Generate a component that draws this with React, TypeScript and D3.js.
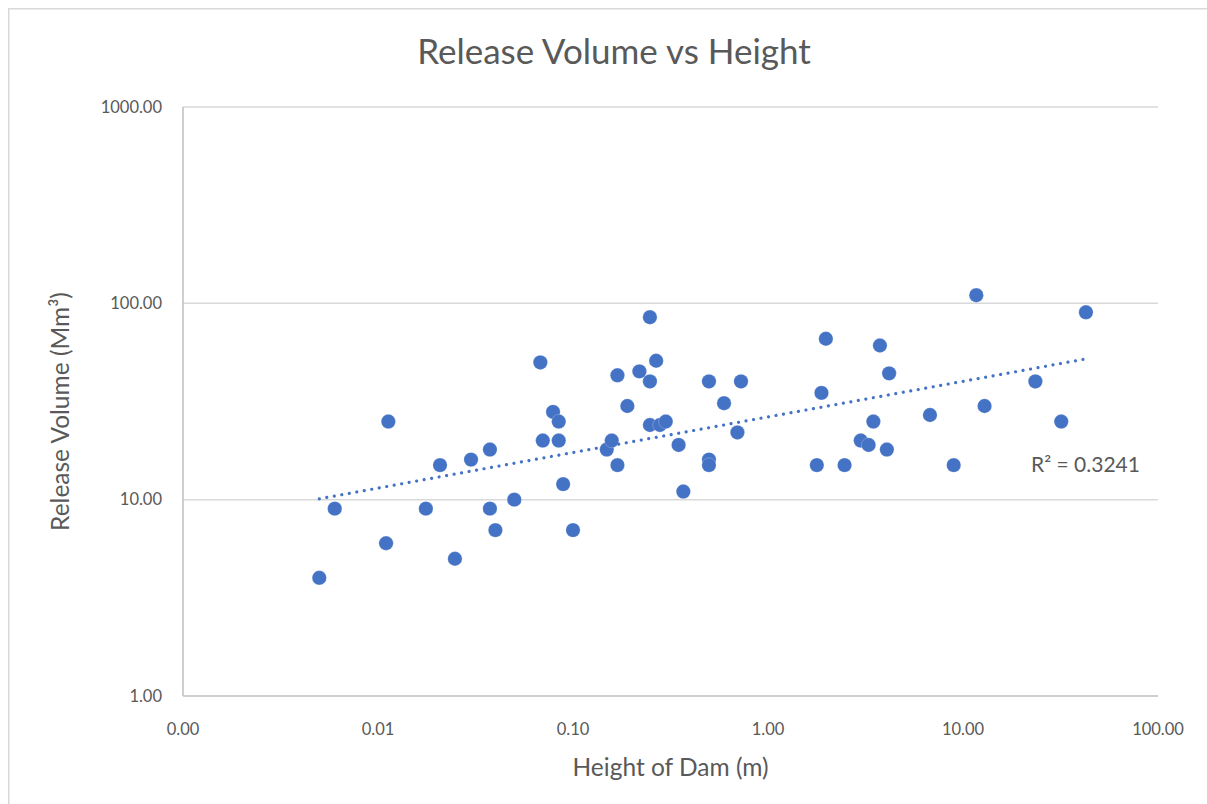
import React, { useLayoutEffect } from 'react';
import * as d3 from 'd3';

const heights = [
  0.005, 0.006, 0.011, 0.0113, 0.0176, 0.0208, 0.0248, 0.03, 0.0375, 0.0375,
  0.04, 0.05, 0.068, 0.07, 0.079, 0.0845, 0.0845, 0.089, 0.1, 0.149,
  0.158, 0.169, 0.169, 0.19, 0.219, 0.248, 0.248, 0.248, 0.267, 0.279,
  0.299, 0.348, 0.368, 0.498, 0.498, 0.498, 0.595, 0.697, 0.727, 1.78,
  1.88, 1.98, 2.47, 2.99, 3.28, 3.47, 3.75, 4.07, 4.18, 6.77,
  8.96, 11.7, 12.9, 23.5, 31.9, 42.7,
];
const volumes = [
  4, 9, 6, 25, 9, 15, 5, 16, 18, 9,
  7, 10, 50, 20, 28, 25, 20, 12, 7, 18,
  20, 15, 43, 30, 45, 85, 40, 24, 51, 24,
  25, 19, 11, 40, 16, 15, 31, 22, 40, 15,
  35, 66, 15, 20, 19, 25, 61, 18, 44, 27,
  15, 110, 30, 40, 25, 90,
];
const xTicks = [0.001, 0.01, 0.1, 1, 10, 100];
const yTicks = [1, 10, 100, 1000];
const titleText = 'Release Volume vs Height';
const xTitleText = 'Height of Dam (m)';
const yTitleText = 'Release Volume (Mm³)';
const r2Text = 'R² = 0.3241';

const FONT = 'Lato, "Open Sans", sans-serif';
const TEXT = '#595959';
const BLUE = '#4472C4';

export default function App() {
  useLayoutEffect(() => {
    document.body.style.margin = '0';
    document.body.style.overflow = 'hidden';
  }, []);

  const W = 1207;
  const H = 804;
  const left = 183, right = 1158, top = 107, bottom = 696;
  const x = d3.scaleLog().domain([0.001, 100]).range([left, right]);
  const y = d3.scaleLog().domain([1, 1000]).range([bottom, top]);

  const lx = heights.map((v) => Math.log10(v));
  const ly = volumes.map((v) => Math.log10(v));
  const mx = d3.mean(lx) as number;
  const my = d3.mean(ly) as number;
  let sxy = 0, sxx = 0;
  lx.forEach((v, i) => {
    sxy += (v - mx) * (ly[i] - my);
    sxx += (v - mx) * (v - mx);
  });
  const b = sxy / sxx;
  const a = my - b * mx;
  const x0 = d3.min(heights) as number;
  const x1 = d3.max(heights) as number;
  const trend = [x0, x1].map((v) => [x(v), y(Math.pow(10, a + b * Math.log10(v)))] as [number, number]);
  const lineGen = d3.line();

  return (
    <svg width={W} height={H} style={{ display: 'block' }} fontFamily={FONT}>
      <rect x={0} y={0} width={W} height={H} fill="#fff" />
      <rect x={8.75} y={8.75} width={W + 40} height={H + 40} fill="#fff" stroke="#D9D9D9" strokeWidth={1.5} />
      <text x={614} y={64} textAnchor="middle" fontSize={35} fill={TEXT}>{titleText}</text>
      {yTicks.slice(1).map((t) => (
        <line key={t} x1={left} x2={right} y1={y(t)} y2={y(t)} stroke="#D9D9D9" strokeWidth={1.5} />
      ))}
      <line x1={left} x2={right} y1={bottom} y2={bottom} stroke="#BFBFBF" strokeWidth={1.5} />
      <line x1={left} x2={left} y1={top} y2={bottom} stroke="#BFBFBF" strokeWidth={1.5} />
      {yTicks.map((t) => (
        <text key={t} x={left - 21} y={y(t)} dy="0.35em" textAnchor="end" fontSize={16.5} fill={TEXT}>{t.toFixed(2)}</text>
      ))}
      {xTicks.map((t) => (
        <text key={t} x={x(t)} y={bottom + 33} dy="0.35em" textAnchor="middle" fontSize={16.5} fill={TEXT}>{t.toFixed(2)}</text>
      ))}
      <text x={(left + right) / 2} y={bottom + 71} dy="0.35em" textAnchor="middle" fontSize={24.5} fill={TEXT}>{xTitleText}</text>
      <text transform={`translate(60,${(top + bottom) / 2 + 10}) rotate(-90)`} textAnchor="middle" dy="0.35em" fontSize={24.5} fill={TEXT}>{yTitleText}</text>
      {heights.map((h, i) => (
        <circle key={i} cx={x(h)} cy={y(volumes[i])} r={7.2} fill={BLUE} stroke="#fff" strokeOpacity={0.4} strokeWidth={0.6} />
      ))}
      <path d={lineGen(trend) || ''} fill="none" stroke={BLUE} strokeWidth={3.2} strokeLinecap="round" strokeDasharray="0.01 7.6" />
      <text x={1031} y={465} dy="0.35em" fontSize={21} fill={TEXT}>{r2Text}</text>
    </svg>
  );
}
